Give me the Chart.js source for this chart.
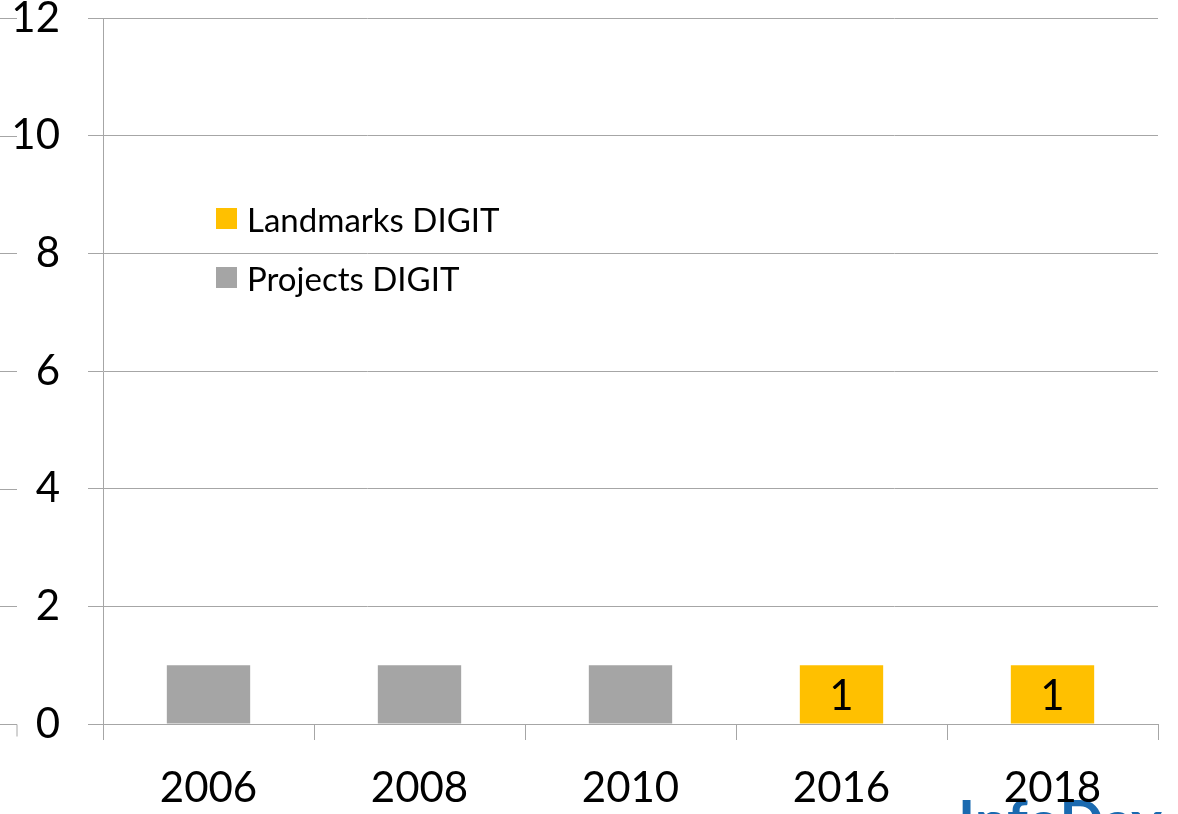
<!DOCTYPE html>
<html>
<head>
<meta charset="utf-8">
<script src="https://cdn.jsdelivr.net/npm/chart.js@4/dist/chart.umd.min.js"></script>
<style>
  body { margin: 0; background: #fff; }
  #wrap { position: relative; width: 1178px; height: 814px; overflow: hidden; font-family: Lato, "Open Sans", sans-serif; }
  #legend { position: absolute; left: 216px; top: 189px; }
  #legend .row { height: 59px; display: flex; align-items: center; font-size: 33px; color: #000; }
  #legend .box { width: 21px; height: 21px; margin-right: 10px; }
  #brand { position: absolute; left: 958px; top: 791px; font-size: 58px; font-weight: bold; color: #1a6ab0; line-height: 1; }
</style>
</head>
<body>
<div id="wrap">
  <div id="brand">InfoDay</div>
  <canvas id="barChart" width="1178" height="814" style="position:relative"></canvas>
  <div id="legend"></div>
</div>
<script>
var years = ['2006', '2008', '2010', '2016', '2018'];
var projectsDigit = [1, 1, 1, null, null];
var landmarksDigit = [null, null, null, 1, 1];
var yTicks = [0, 2, 4, 6, 8, 10, 12];

var gridGrey = '#a6a6a6';
var fontFamily = 'Lato, "Open Sans", sans-serif';

// draws the "1" labels inside the Landmarks bars, plus the stray tick marks on the far left
var barLabels = {
    id: 'barLabels',
    afterDatasetsDraw: function(chart) {
        var ctx = chart.ctx;
        var meta = chart.getDatasetMeta(1);
        ctx.save();
        ctx.font = '42px ' + fontFamily;
        ctx.fillStyle = '#000';
        ctx.textAlign = 'center';
        ctx.textBaseline = 'middle';
        meta.data.forEach(function(bar, i) {
            var v = landmarksDigit[i];
            if (v === null) return;
            ctx.fillText(String(v), bar.x, (bar.y + bar.base) / 2 + 2);
        });
        ctx.restore();
    },
    afterDraw: function(chart) {
        var ctx = chart.ctx;
        var y = chart.scales.y;
        ctx.save();
        ctx.strokeStyle = gridGrey;
        ctx.lineWidth = 1;
        yTicks.forEach(function(t) {
            var py = Math.round(y.getPixelForValue(t)) + 0.5;
            ctx.beginPath();
            ctx.moveTo(0, py);
            ctx.lineTo(17, py);
            if (t === 0) ctx.lineTo(17, py + 12);
            ctx.stroke();
        });
        ctx.restore();
    }
};

window.onload = function() {
    var ctx = document.getElementById('barChart').getContext('2d');
    var barChart = new Chart(ctx, {
        type: 'bar',
        data: {
            labels: years,
            datasets: [{
                label: 'Projects DIGIT',
                data: projectsDigit,
                backgroundColor: '#a5a5a5'
            }, {
                label: 'Landmarks DIGIT',
                data: landmarksDigit,
                backgroundColor: '#ffc000'
            }]
        },
        options: {
            responsive: false,
            animation: false,
            layout: { autoPadding: false, padding: { top: 18, right: 20, left: 0, bottom: 0 } },
            datasets: { bar: { barPercentage: 0.395, categoryPercentage: 1 } },
            plugins: {
                legend: { display: false },
                tooltip: { enabled: false }
            },
            scales: {
                x: {
                    stacked: true,
                    grid: { drawOnChartArea: false, drawTicks: true, tickLength: 16, color: gridGrey, offset: true },
                    border: { display: true, color: gridGrey },
                    ticks: { color: '#000', font: { family: fontFamily, size: 42 }, padding: 23, maxRotation: 0 },
                    afterFit: function(scale) {
                        scale.height = 90;
                        scale.paddingLeft = 0;
                        scale.paddingRight = 0;
                    }
                },
                y: {
                    stacked: true,
                    min: 0,
                    max: 12,
                    grid: { color: gridGrey, tickLength: 15 },
                    border: { display: true, color: gridGrey },
                    ticks: {
                        stepSize: 2,
                        color: '#000',
                        font: { family: fontFamily, size: 42 },
                        padding: 28
                    },
                    afterFit: function(scale) {
                        scale.width = 103;
                        scale.paddingTop = 0;
                        scale.paddingBottom = 0;
                    }
                }
            }
        },
        plugins: [barLabels]
    });

    // legend in the reference order: Landmarks first, then Projects
    var legend = document.getElementById('legend');
    [1, 0].forEach(function(i) {
        var ds = barChart.data.datasets[i];
        var row = document.createElement('div');
        row.className = 'row';
        var box = document.createElement('span');
        box.className = 'box';
        box.style.background = ds.backgroundColor;
        var txt = document.createElement('span');
        txt.textContent = ds.label;
        row.appendChild(box);
        row.appendChild(txt);
        legend.appendChild(row);
    });
};
</script>
</body>
</html>
